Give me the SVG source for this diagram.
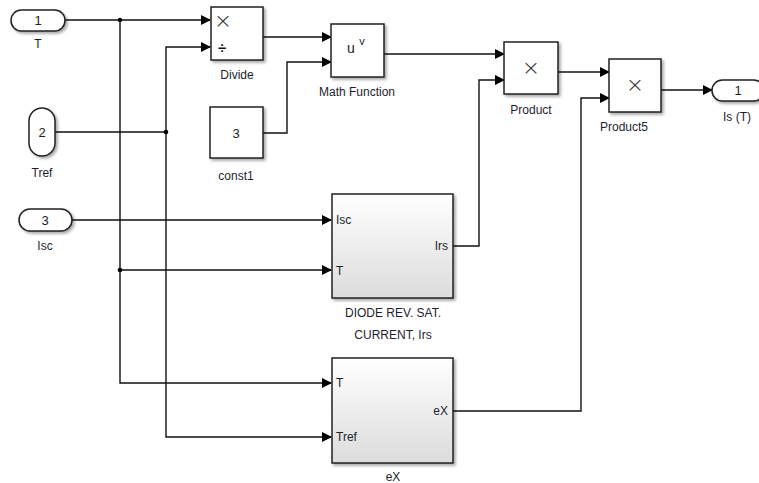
<svg xmlns="http://www.w3.org/2000/svg" width="759" height="483" viewBox="0 0 759 483">
<defs>
<linearGradient id="sub" x1="0" y1="0" x2="0" y2="1">
<stop offset="0" stop-color="#ffffff"/>
<stop offset="1" stop-color="#dcdcdc"/>
</linearGradient>
<filter id="sh" x="-20%" y="-20%" width="150%" height="150%">
<feGaussianBlur in="SourceAlpha" stdDeviation="1.5"/>
<feOffset dx="2" dy="2" result="b"/>
<feComponentTransfer><feFuncA type="linear" slope="0.35"/></feComponentTransfer>
<feMerge><feMergeNode/><feMergeNode in="SourceGraphic"/></feMerge>
</filter>
<marker id="arr" markerWidth="10" markerHeight="10" refX="9" refY="5" orient="auto" markerUnits="userSpaceOnUse">
<path d="M0,0 L10,5 L0,10 Z" fill="#000"/>
</marker>
</defs>
<style>
text{font-family:"Liberation Sans",Arial,sans-serif;font-size:12px;fill:#1e1e2e}
.blk{fill:#fff;stroke:#222;stroke-width:1.5;filter:url(#sh)}
.sub{fill:url(#sub);stroke:#222;stroke-width:1.5;filter:url(#sh)}
.port{fill:#fff;stroke:#222;stroke-width:1.5;filter:url(#sh)}
.w{fill:none;stroke:#111;stroke-width:1.4}
.a{marker-end:url(#arr)}
.lbl{text-anchor:middle}
.sym{font-size:22px;fill:#333;text-anchor:middle;font-family:"DejaVu Sans",sans-serif;font-weight:300}
.div{font-size:15px;fill:#111;text-anchor:middle;font-family:"Liberation Sans",sans-serif;font-weight:bold}
.big{font-size:13px;text-anchor:middle;fill:#222}
.pin{font-size:12px}
</style>
<rect width="759" height="483" fill="#fff"/>

<g id="connectors">
<path class="w a" d="M65,20 H210"/>
<path class="w a" d="M55,132 H166 V47 H210"/>
<path class="w a" d="M120,20 V270 H331"/>
<path class="w a" d="M120,270 V383 H331"/>
<path class="w a" d="M166,132 V437 H331"/>
<path class="w a" d="M72,220 H331"/>
<path class="w a" d="M263,37 H331"/>
<path class="w a" d="M263,133 H287 V62 H331"/>
<path class="w a" d="M384,54 H504"/>
<path class="w a" d="M453,246 H479 V80 H504"/>
<path class="w a" d="M558,72 H609"/>
<path class="w a" d="M453,411 H581 V98 H609"/>
<path class="w a" d="M661,90 H712"/>
<circle cx="120" cy="20" r="2.3" fill="#000"/>
<circle cx="166" cy="132" r="2.3" fill="#000"/>
<circle cx="120" cy="270" r="2.3" fill="#000"/>
</g>

<g id="in1">
<rect class="port" x="11" y="10" width="54" height="21" rx="10.5"/>
<text class="big" x="38" y="25">1</text>
<text class="lbl" x="38" y="48">T</text>
</g>
<g id="in2">
<rect class="port" x="29" y="108" width="26" height="48" rx="13"/>
<text class="big" x="42" y="137">2</text>
<text class="lbl" x="42" y="177">Tref</text>
</g>
<g id="in3">
<rect class="port" x="19" y="209" width="53" height="22" rx="11"/>
<text class="big" x="45" y="225">3</text>
<text class="lbl" x="45" y="250">Isc</text>
</g>

<g id="divide">
<rect class="blk" x="211" y="7" width="52" height="53"/>
<text class="sym" x="223" y="28">×</text>
<text class="div" x="222" y="53">÷</text>
<text class="lbl" x="237" y="79">Divide</text>
</g>

<g id="const1">
<rect class="blk" x="210" y="107" width="53" height="51"/>
<text class="big" x="236" y="138">3</text>
<text class="lbl" x="236" y="180">const1</text>
</g>

<g id="mathfunction">
<rect class="blk" x="331" y="24" width="53" height="53"/>
<text x="351" y="53" style="font-size:14px;fill:#222" text-anchor="middle">u</text>
<text x="362" y="45" style="font-size:11px;fill:#222" text-anchor="middle">v</text>
<text class="lbl" x="357" y="96">Math Function</text>
</g>

<g id="product">
<rect class="blk" x="504" y="42" width="54" height="52"/>
<text class="sym" x="531" y="75">×</text>
<text class="lbl" x="531" y="114">Product</text>
</g>

<g id="product5">
<rect class="blk" x="609" y="59" width="52" height="53"/>
<text class="sym" x="635" y="92">×</text>
<text class="lbl" x="624" y="131">Product5</text>
</g>

<g id="out1">
<rect class="port" x="712" y="80" width="52" height="21" rx="10.5"/>
<text class="big" x="738" y="95">1</text>
<text class="lbl" x="737" y="121">Is (T)</text>
</g>

<g id="diode">
<rect class="sub" x="332" y="194" width="121" height="104"/>
<text class="pin" x="336" y="224">Isc</text>
<text class="pin" x="336" y="275">T</text>
<text class="pin" x="448" y="250" text-anchor="end">Irs</text>
<text class="lbl" x="393" y="317">DIODE REV. SAT.</text>
<text class="lbl" x="393" y="339">CURRENT, Irs</text>
</g>

<g id="eX">
<rect class="sub" x="332" y="358" width="121" height="105"/>
<text class="pin" x="336" y="387">T</text>
<text class="pin" x="336" y="441">Tref</text>
<text class="pin" x="448" y="415" text-anchor="end">eX</text>
<text class="lbl" x="393" y="481">eX</text>
</g>
</svg>
